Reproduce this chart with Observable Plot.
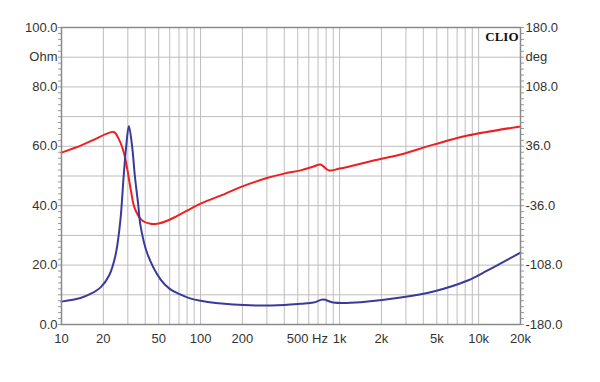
<!DOCTYPE html>
<html>
<head>
<meta charset="utf-8">
<script src="https://cdn.jsdelivr.net/npm/d3@7"></script>
<script src="https://cdn.jsdelivr.net/npm/@observablehq/plot@0.6"></script>
<style>
  html, body { margin: 0; padding: 0; background: #fff; }
  svg { display: block; }
</style>
</head>
<body>
<div id="chart"></div>
<script>
// Impedance magnitude (Ohm) – blue curve
const impFreq = [10, 13.7, 16, 19.1, 22, 24.5, 26.5, 28, 29.2, 30.5, 32.2, 33.7, 35.5, 37, 41.4, 51.5, 60, 70, 84, 100, 172, 250, 400, 525, 650, 760, 900, 1200, 2750, 4740, 8340, 11600, 20000];
const impOhm  = [7.7, 8.9, 10.2, 12.5, 16.5, 23.5, 35, 50, 60, 66.8, 60, 50, 41, 33.3, 23.9, 15.2, 12, 10.3, 8.8, 8.0, 6.7, 6.4, 6.6, 7.0, 7.4, 8.4, 7.4, 7.3, 9.1, 11.1, 14.8, 18.2, 24.2];

// Impedance phase (deg) – red curve
const phaseFreq = [10, 14, 17.6, 21, 23.8, 25.8, 28, 29.7, 31.4, 33.7, 38, 43.7, 50, 57, 66, 80, 100, 150, 200, 300, 400, 525, 650, 730, 834, 1000, 2000, 2750, 4740, 8340, 20000];
const phaseDeg  = [28.4, 37.5, 45, 51, 53.3, 45, 29, 8.6, -15.5, -39.6, -54, -58, -57.5, -54.5, -49.5, -42, -33.5, -21.6, -12.6, -2.5, 2.9, 6.8, 11.5, 14, 6.8, 9, 21, 26, 38, 49, 60];

// Axes
const ohmTicks = [0, 20, 40, 60, 80, 100];
const ohmGrid = d3.range(0, 101, 10);
const ohmMinor = d3.range(0, 101, 2);
const freqGrid = [10,20,30,40,50,60,70,80,90,100,200,300,400,500,600,700,800,900,1000,2000,3000,4000,5000,6000,7000,8000,9000,10000,20000];
const freqTicks = [10, 20, 50, 100, 200, 1000, 2000, 5000, 10000, 20000];
const freqTickLabels = ["10", "20", "50", "100", "200", "1k", "2k", "5k", "10k", "20k"];
const hzLabel = [{f: 500, t: "500 Hz"}];

const impData = impFreq.map((f, i) => ({f, v: impOhm[i]}));
const phaseData = phaseFreq.map((f, i) => ({f, v: (phaseDeg[i] + 180) / 3.6}));
const xLabels = freqTicks.map((f, i) => ({f, t: freqTickLabels[i]}));

const font = "'Liberation Sans', Arial, sans-serif";

const chart = Plot.plot({
  width: 600,
  height: 382,
  marginLeft: 61,
  marginRight: 80,
  marginTop: 27,
  marginBottom: 58,
  style: {fontFamily: font, fontSize: "13px", color: "#333", background: "#fff"},
  x: {type: "log", domain: [10, 20000], axis: null},
  y: {domain: [0, 100], axis: null},
  marks: [
    Plot.ruleY(ohmGrid, {stroke: "#bdbdbd", strokeWidth: 1}),
    Plot.ruleX(freqGrid, {stroke: "#bdbdbd", strokeWidth: 1}),
    Plot.axisY(ohmMinor, {anchor: "left", tickSize: 3, tickFormat: () => "", stroke: "#999", label: null}),
    Plot.axisY(ohmMinor, {anchor: "right", tickSize: 3, tickFormat: () => "", stroke: "#999", label: null}),
    Plot.axisY(ohmTicks, {anchor: "left", tickSize: 0, tickPadding: 4, tickFormat: d => d.toFixed(1), label: null, fill: "#333"}),
    Plot.axisY(ohmTicks, {anchor: "right", tickSize: 0, tickPadding: 5, tickFormat: d => (d * 3.6 - 180).toFixed(1), label: null, fill: "#333"}),
    Plot.text(xLabels, {x: "f", text: "t", frameAnchor: "bottom", lineAnchor: "top", dy: 9, fill: "#333"}),
    Plot.text(hzLabel, {x: "f", text: "t", frameAnchor: "bottom", textAnchor: "start", lineAnchor: "top", dx: -11, dy: 9, fill: "#333"}),
    Plot.text(["Ohm"], {frameAnchor: "left", y: () => 90, text: d => d, textAnchor: "end", dx: -4, fill: "#333"}),
    Plot.text(["deg"], {frameAnchor: "right", y: () => 90, text: d => d, textAnchor: "start", dx: 5, fill: "#333"}),
    Plot.line(phaseData, {x: "f", y: "v", stroke: "#ee1f1f", strokeWidth: 2, curve: "catmull-rom"}),
    Plot.line(impData, {x: "f", y: "v", stroke: "#3a3a9c", strokeWidth: 2, curve: "catmull-rom"}),
    Plot.frame({stroke: "#8a8a8a", strokeWidth: 1.5}),
    Plot.text(["CLIO"], {frameAnchor: "top-right", text: d => d, dx: -2, dy: 4, fontFamily: "'Liberation Serif', 'DejaVu Serif', serif", fontWeight: "bold", fontSize: 13, fill: "#111"})
  ]
});
document.getElementById("chart").appendChild(chart);
</script>
</body>
</html>
